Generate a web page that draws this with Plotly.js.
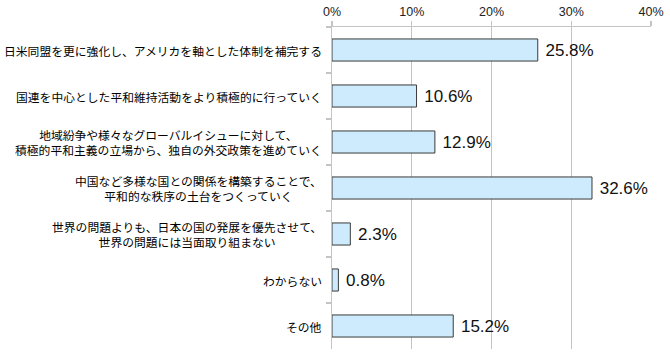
<!DOCTYPE html>
<html>
<head>
<meta charset="utf-8">
<script src="https://cdn.plot.ly/plotly-3.0.1.min.js"></script>
<style>html,body{margin:0;padding:0;background:#fff;}#chart{width:670px;height:363px;}</style>
</head>
<body>
<div id="chart"></div>
<script>
const categories = [
  "日米同盟を更に強化し、アメリカを軸とした体制を補完する",
  "国連を中心とした平和維持活動をより積極的に行っていく",
  "地域紛争や様々なグローバルイシューに対して、<br>積極的平和主義の立場から、独自の外交政策を進めていく",
  "中国など多様な国との関係を構築することで、<br>平和的な秩序の土台をつくっていく",
  "世界の問題よりも、日本の国の発展を優先させて、<br>世界の問題には当面取り組まない",
  "わからない",
  "その他"
];
const values = [25.8, 10.6, 12.9, 32.6, 2.3, 0.8, 15.2];
const xTickVals = [0, 10, 20, 30, 40];
const xTickText = ["0%", "10%", "20%", "30%", "40%"];

const trace = {
  type: 'bar',
  orientation: 'h',
  x: values,
  y: categories,
  marker: {color: '#cdebfc', line: {color: '#3a3a3a', width: 1}},
  text: values.map(v => '\u00a0' + v.toFixed(1) + '%'),
  textposition: 'outside',
  cliponaxis: false,
  textfont: {family: 'Liberation Sans, Arial, sans-serif', size: 17, color: '#111'},
  hoverinfo: 'none'
};

const annotations = categories.map(c => ({
  xref: 'paper', yref: 'y', x: 0, y: c,
  xanchor: 'right', yanchor: 'middle', xshift: -8,
  text: c, showarrow: false, align: 'center',
  font: {family: 'Noto Sans CJK JP, sans-serif', size: 11.8, color: '#000'}
}));

const layout = {
  width: 670, height: 363,
  margin: {l: 332, r: 19, t: 27, b: 14, pad: 0},
  paper_bgcolor: '#fff', plot_bgcolor: '#fff',
  showlegend: false,
  bargap: 0.52,
  font: {family: 'Liberation Sans, Arial, sans-serif', color: '#111'},
  xaxis: {
    side: 'top', range: [0, 40], tickmode: 'array', tickvals: xTickVals, ticktext: xTickText,
    showgrid: true, gridcolor: '#c4c4c4', gridwidth: 1.3,
    showline: true, linecolor: '#c4c4c4', linewidth: 1.3,
    ticks: 'outside', ticklen: 5, tickcolor: '#c4c4c4', tickwidth: 1.3,
    tickfont: {size: 12.5, color: '#222'}, zeroline: false, fixedrange: true
  },
  yaxis: {
    type: 'category', autorange: 'reversed',
    showticklabels: false, showgrid: false, zeroline: false,
    showline: true, linecolor: '#c4c4c4', linewidth: 1.3,
    ticks: 'outside', tickson: 'boundaries', ticklen: 5, tickcolor: '#c4c4c4', tickwidth: 1.3,
    fixedrange: true
  },
  annotations: annotations
};

Plotly.newPlot('chart', [trace], layout, {displayModeBar: false, staticPlot: true});
</script>
</body>
</html>
